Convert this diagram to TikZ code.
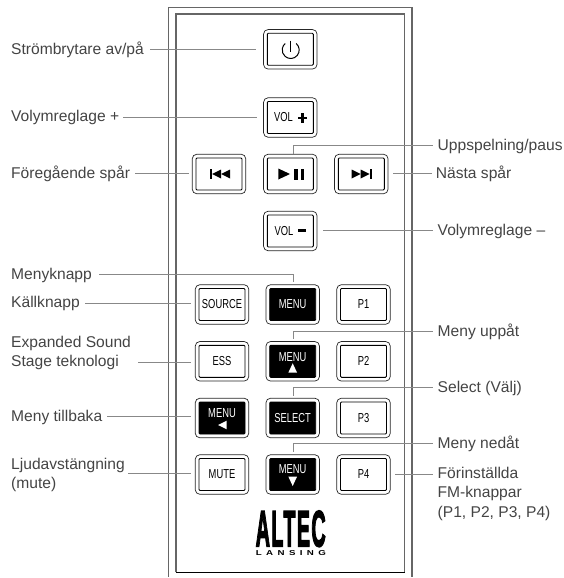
\documentclass[tikz,border=0pt]{standalone}
\usepackage{fontspec}
\usepackage{graphicx}
\setmainfont{Liberation Sans}
\newfontfamily\btnfont[FakeStretch=0.72]{Liberation Sans}
\newfontfamily\logofont[FakeBold=3.5,LetterSpace=7]{Liberation Sans Bold}
\newfontfamily\subfont[LetterSpace=45]{Liberation Sans Bold}
\definecolor{lbl}{HTML}{444444}
\definecolor{lead}{HTML}{888888}
\tikzset{
  lab/.style={anchor=west,inner sep=0pt,yshift=-1.2pt,text=lbl,font=\fontsize{15.6}{19.5}\selectfont,align=left},
  leader/.style={draw=lead,line width=0.9pt},
  shell/.style={draw=black!60,line width=1.2pt},
  btnouter/.style={draw=black!85,line width=0.7pt,rounded corners=4.5pt,minimum width=53.5pt,minimum height=39.5pt,inner sep=0pt,fill=white},
  btninner/.style={draw=black,line width=0.9pt,rounded corners=1pt,minimum width=46pt,minimum height=32pt,inner sep=0pt,font=\btnfont\fontsize{13}{14}\selectfont},
  darkbtn/.style={fill=black,text=white},
  tag/.style={inner sep=0pt,font=\btnfont\fontsize{13}{14}\selectfont},
  icon/.style={fill=black,draw=none},
  wicon/.style={fill=white,draw=none}
}
\newcommand{\rbtn}[5][]{\node[btnouter] (#2) at (#3,#4) {};\node[btninner,#1] (#2i) at (#2) {#5};}
\begin{document}
\begin{tikzpicture}[x=1pt,y=-1pt]
\useasboundingbox (0,0) rectangle (564,578);
% remote shell
\draw[shell] (168.5,577) -- (168.5,7.2) -- (412,7.2) -- (412,577);
\draw[shell] (176,572.3) -- (176,14) -- (404.7,14) -- (404.7,572.3);
\draw[draw=black,line width=0.9pt] (176,572.3) -- (404.7,572.3);
% buttons
\rbtn{bpower}{290.3}{49.3}{}
\rbtn{bvolp}{290.3}{117.5}{}
\rbtn{bprev}{219}{174}{}
\rbtn{bplay}{290.3}{174}{}
\rbtn{bnext}{361.3}{174}{}
\rbtn{bvolm}{290.3}{231}{}
\rbtn{bsrc}{222}{304.5}{SOURCE}
\rbtn[darkbtn]{bmenu}{292.7}{304.5}{MENU}
\rbtn{bpa}{363.5}{304.5}{P1}
\rbtn{bess}{222}{361.3}{ESS}
\rbtn[darkbtn]{bup}{292.7}{361.3}{}
\rbtn{bpb}{363.5}{361.3}{P2}
\rbtn[darkbtn]{bback}{222}{418}{}
\rbtn[darkbtn]{bsel}{292.7}{418}{SELECT}
\rbtn{bpc}{363.5}{418}{P3}
\rbtn{bmute}{222}{474.5}{MUTE}
\rbtn[darkbtn]{bdown}{292.7}{474.5}{}
\rbtn{bpd}{363.5}{474.5}{P4}
% icons
\draw[line width=1pt] (296.16,43.49) arc[start angle=-50,end angle=230,radius=8.5];
\draw[line width=1pt] (290.7,40.7) -- (290.7,51.7);
\fill[icon] (210,169) rectangle (212.2,179);
\fill[icon] (212.2,174) -- (221,169.5) -- (221,178.5) -- cycle;
\fill[icon] (221,174) -- (230,169.5) -- (230,178.5) -- cycle;
\fill[icon] (278.3,168.5) -- (290,174) -- (278.3,179.5) -- cycle;
\fill[icon] (294.3,168.5) rectangle (297.8,179.5);
\fill[icon] (300.5,168.5) rectangle (304,179.5);
\fill[icon] (351.7,169.5) -- (360.5,174) -- (351.7,178.5) -- cycle;
\fill[icon] (360.5,169.5) -- (369.5,174) -- (360.5,178.5) -- cycle;
\fill[icon] (369.5,169) rectangle (371.7,179);
\node[tag,anchor=west] (tvolp) at (274,117.5) {VOL};
\fill[icon] (298,116.6) rectangle (307,119);
\fill[icon] (301.3,113) rectangle (303.7,122.5);
\node[tag,anchor=west] (tvolm) at (274.5,231) {VOL};
\fill[icon] (297.7,229.2) rectangle (306,231.6);
\node[tag,text=white] (tup) at (292.7,356.7) {MENU};
\fill[wicon] (292.7,363.3) -- (297,372.5) -- (288.4,372.5) -- cycle;
\node[tag,text=white] (tback) at (222,413) {MENU};
\fill[wicon] (218,425) -- (226.7,420.7) -- (226.7,429.3) -- cycle;
\node[tag,text=white] (tdown) at (292.7,469) {MENU};
\fill[wicon] (292.7,486) -- (297,476.7) -- (288.4,476.7) -- cycle;
% logo
\node[inner sep=0pt] (logo) at (290.7,528.8) {\resizebox{70pt}{35.5pt}{\logofont ALTEC}};
\node[inner sep=0pt] (logob) at (290.9,552.6) {\resizebox{70pt}{5pt}{\subfont LANSING}};
% labels left
\node[lab] (l1) at (11,48.3) {Strömbrytare av/på};
\node[lab] (l2) at (11,116.5) {Volymreglage +};
\node[lab] (l3) at (11,173) {Föregående spår};
\node[lab] (l4) at (11,274) {Menyknapp};
\node[lab] (l5) at (11,302.5) {Källknapp};
\node[lab] (l6) at (11,352) {Expanded Sound\\Stage teknologi};
\node[lab] (l7) at (11,416) {Meny tillbaka};
\node[lab] (l8) at (11,474) {Ljudavstängning\\(mute)};
% labels right
\node[lab] (r1) at (437.5,145) {Uppspelning/paus};
\node[lab] (r2) at (435.7,172.7) {Nästa spår};
\node[lab] (r3) at (437.5,230) {Volymreglage –};
\node[lab] (r4) at (437.5,331) {Meny uppåt};
\node[lab] (r5) at (437.5,387.7) {Select (Välj)};
\node[lab] (r6) at (437.5,443) {Meny nedåt};
\node[lab] (r7) at (437.5,492.7) {Förinställda\\FM-knappar\\(P1, P2, P3, P4)};
% free ends
\coordinate (s1) at (150,49);
\coordinate (e1) at (256,49);
\coordinate (s2) at (123,117);
\coordinate (e2) at (257,117);
\coordinate (s3) at (135,173.7);
\coordinate (e3) at (188.7,173.7);
\coordinate (s4) at (99,274.5);
\coordinate (e4) at (293.3,281.7);
\coordinate (s5) at (85,303);
\coordinate (e5) at (191,303);
\coordinate (s6) at (138,362.3);
\coordinate (e6) at (191,362.3);
\coordinate (s7) at (107,416.7);
\coordinate (e7) at (191,416.7);
\coordinate (s8) at (128,473.7);
\coordinate (e8) at (191,473.7);
\coordinate (t1) at (432.7,145.3);
\coordinate (f1) at (293,153.8);
\coordinate (t2) at (431.7,173.5);
\coordinate (f2) at (393,173.5);
\coordinate (t3) at (432.7,230);
\coordinate (f3) at (323,230);
\coordinate (t4) at (432.7,331);
\coordinate (f4) at (293.3,338.5);
\coordinate (t5) at (432.7,387.7);
\coordinate (f5) at (293.3,395.5);
\coordinate (t6) at (432.7,443.3);
\coordinate (f6) at (293.3,451.5);
\coordinate (t7) at (432.7,474);
\coordinate (f7) at (395,474);
% connectors
\draw[leader] (s1) -- (e1);
\draw[leader] (s2) -- (e2);
\draw[leader] (s3) -- (e3);
\draw[leader] (f1) |- (t1);
\draw[leader] (f2) -- (t2);
\draw[leader] (f3) -- (t3);
\draw[leader] (s4) -| (e4);
\draw[leader] (s5) -- (e5);
\draw[leader] (s6) -- (e6);
\draw[leader] (s7) -- (e7);
\draw[leader] (s8) -- (e8);
\draw[leader] (f4) |- (t4);
\draw[leader] (f5) |- (t5);
\draw[leader] (f6) |- (t6);
\draw[leader] (f7) -- (t7);
\end{tikzpicture}
\end{document}
